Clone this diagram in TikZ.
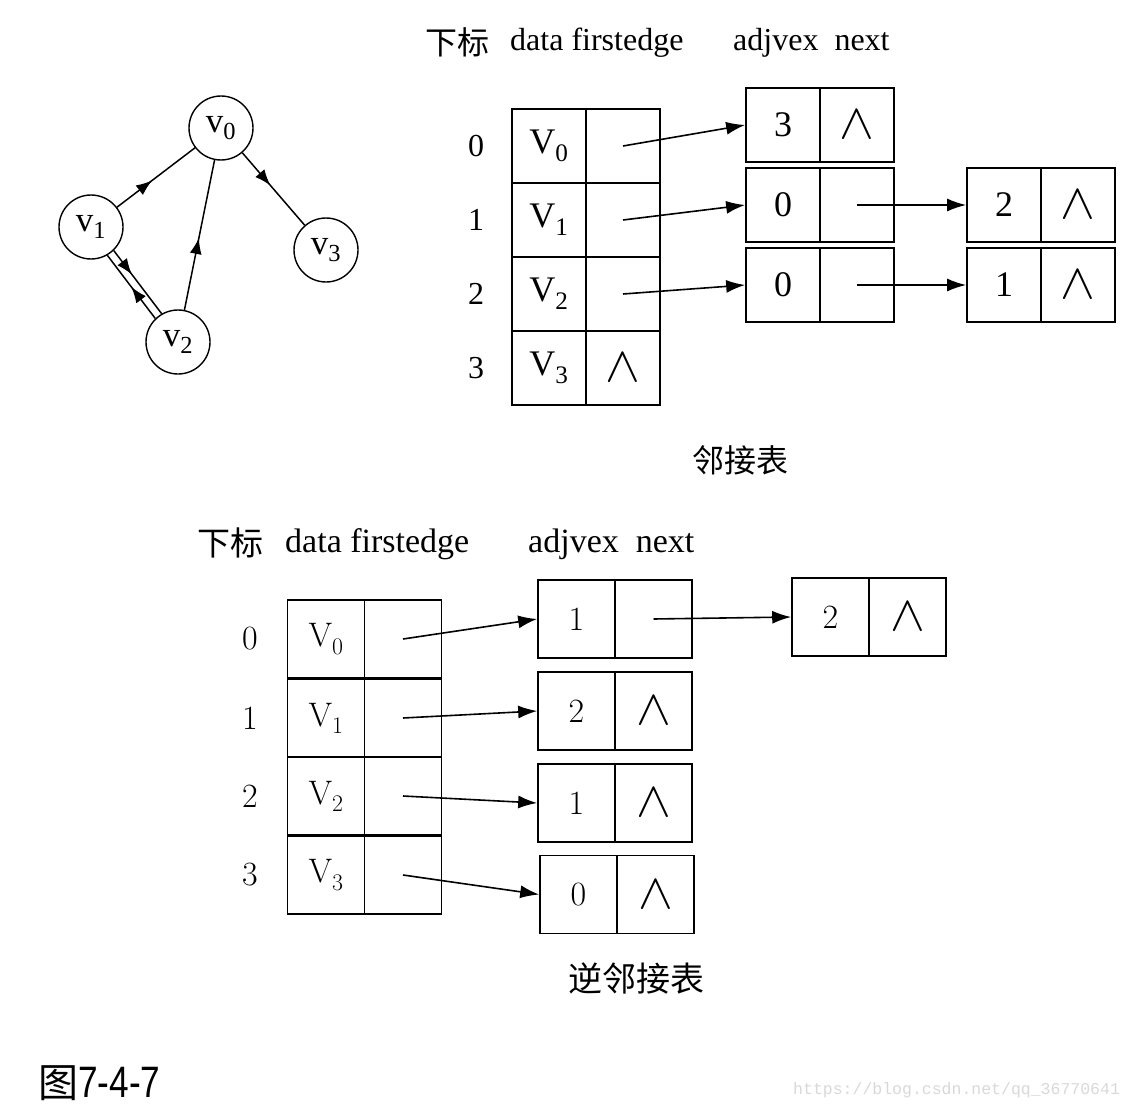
\documentclass[tikz,border=0pt]{standalone}
\usepackage{fontspec}
\usetikzlibrary{arrows.meta,decorations.markings}
\newfontfamily\tms{Liberation Serif}
\newfontfamily\cjk{Noto Sans CJK SC}
\newfontfamily\arl{Liberation Sans}
\newfontfamily\mno{Liberation Mono}
\newcommand\nul{\scalebox{2.1}[2]{$\wedge$}}
\begin{document}
\begin{tikzpicture}[x=1pt,y=-1pt,
  tcell/.style={draw,line width=1.7pt,minimum width=74pt,minimum height=74pt,inner sep=0pt,font=\tms\fontsize{36}{36}\selectfont},
  bcell/.style={draw,line width=1.6pt,minimum width=77pt,minimum height=78pt,inner sep=0pt,font=\fontsize{34}{34}\selectfont},
  gnode/.style={circle,draw,line width=1.4pt,minimum size=64pt,inner sep=0pt,font=\tms\fontsize{35}{35}\selectfont},
  ptr/.style={line width=1.6pt,-{Latex[length=19pt,width=13pt]}},
  midarrow/.style={line width=1.5pt,postaction={decorate},decoration={markings,mark=at position #1 with {\arrow{Latex[length=16pt,width=12pt]}}}},
  midarrow/.default=0.45,
  thead/.style={inner sep=0pt,anchor=west,font=\tms\fontsize{32}{32}\selectfont},
  bhead/.style={inner sep=0pt,anchor=west,font=\tms\fontsize{34}{34}\selectfont},
  tidx/.style={inner sep=0pt,font=\tms\fontsize{32}{32}\selectfont},
  bidx/.style={inner sep=0pt,font=\fontsize{34}{34}\selectfont},
  captxt/.style={inner sep=0pt,font=\cjk\fontsize{32}{32}\selectfont}]
\useasboundingbox[fill=white] (0,0) rectangle (1134,1110);
% ---------- graph ----------
\node[gnode] (v0) at (221,128) {v\textsubscript{0}};
\node[gnode] (v1) at (91,227) {v\textsubscript{1}};
\node[gnode] (v2) at (178,342) {v\textsubscript{2}};
\node[gnode] (v3) at (326,250) {v\textsubscript{3}};
\draw[midarrow] (v1) -- (v0);
\draw[midarrow] (v0) -- (v3);
\draw[midarrow=0.48] (v2) -- (v0);
\draw[midarrow=0.38] (v1.-46) -- (v2.120);
\draw[midarrow=0.5] (v2.134) -- (v1.-60);
% ---------- top header ----------
\node[captxt,anchor=west] (th0) at (425,42) {下标};
\node[thead] (th1) at (510,43) {data firstedge};
\node[thead] (th2) at (733,43) {adjvex\ \ next};
% ---------- top table ----------
\node[tcell] (t0d) at (549,146) {V\textsubscript{0}};
\node[tcell] (t0f) at (623,146) {};
\node[tcell] (t1d) at (549,220) {V\textsubscript{1}};
\node[tcell] (t1f) at (623,220) {};
\node[tcell] (t2d) at (549,294) {V\textsubscript{2}};
\node[tcell] (t2f) at (623,294) {};
\node[tcell] (t3d) at (549,368) {V\textsubscript{3}};
\node[tcell] (t3f) at (623,368) {\nul};
\node[tidx] (ti0) at (476,146) {0};
\node[tidx] (ti1) at (476,220) {1};
\node[tidx] (ti2) at (476,294) {2};
\node[tidx] (ti3) at (476,368) {3};
% edge boxes
\node[tcell] (a0v) at (783,125) {3};
\node[tcell] (a0n) at (857,125) {\nul};
\node[tcell] (a1v) at (783,205) {0};
\node[tcell] (a1n) at (857,205) {};
\node[tcell] (a2v) at (783,285) {0};
\node[tcell] (a2n) at (857,285) {};
\node[tcell] (b1v) at (1004,205) {2};
\node[tcell] (b1n) at (1078,205) {\nul};
\node[tcell] (b2v) at (1004,285) {1};
\node[tcell] (b2n) at (1078,285) {\nul};
\draw[ptr] (t0f.center) -- (a0v.west);
\draw[ptr] (t1f.center) -- (a1v.west);
\draw[ptr] (t2f.center) -- (a2v.west);
\draw[ptr] (a1n.center) -- (b1v.west);
\draw[ptr] (a2n.center) -- (b2v.west);
\node[captxt] (c1) at (740,460) {邻接表};
% ---------- bottom header ----------
\node[captxt,anchor=west,font=\cjk\fontsize{33}{33}\selectfont] (bh0) at (197,543) {下标};
\node[bhead] (bh1) at (285,544) {data firstedge};
\node[bhead] (bh2) at (528,544) {adjvex\ \ next};
% ---------- bottom table ----------
\node[bcell] (s0d) at (326,639) {V\textsubscript{0}};
\node[bcell] (s0f) at (403,639) {};
\node[bcell] (s1d) at (326,718) {V\textsubscript{1}};
\node[bcell] (s1f) at (403,718) {};
\node[bcell] (s2d) at (326,796) {V\textsubscript{2}};
\node[bcell] (s2f) at (403,796) {};
\node[bcell] (s3d) at (326,875) {V\textsubscript{3}};
\node[bcell] (s3f) at (403,875) {};
\node[bidx] (si0) at (250,639) {0};
\node[bidx] (si1) at (250,718) {1};
\node[bidx] (si2) at (250,796) {2};
\node[bidx] (si3) at (250,875) {3};
\node[bcell] (r0v) at (576.5,619) {1};
\node[bcell] (r0n) at (653.5,619) {};
\node[bcell] (r1v) at (576.5,711) {2};
\node[bcell] (r1n) at (653.5,711) {\nul};
\node[bcell] (r2v) at (576.5,803) {1};
\node[bcell] (r2n) at (653.5,803) {\nul};
\node[bcell] (r3v) at (578.5,894.5) {0};
\node[bcell] (r3n) at (655.5,894.5) {\nul};
\node[bcell] (q0v) at (830.5,617) {2};
\node[bcell] (q0n) at (907.5,617) {\nul};
\draw[ptr] (s0f.center) -- (r0v.west);
\draw[ptr] (s1f.center) -- (r1v.west);
\draw[ptr] (s2f.center) -- (r2v.west);
\draw[ptr] (s3f.center) -- (r3v.west);
\draw[ptr] (r0n.center) -- (q0v.west);
\node[captxt,font=\cjk\fontsize{34}{34}\selectfont] (c2) at (636,978) {逆邻接表};
% ---------- figure label ----------
\node[inner sep=0pt,anchor=west] (fig) at (38,1083) {{\cjk\fontsize{40}{40}\selectfont 图}{\arl\fontsize{44}{44}\selectfont\scalebox{0.8}[1]{7-4-7}}};
\node[inner sep=0pt,anchor=west,text=black!15,font=\mno\fontsize{16.5}{16.5}\selectfont] (wm) at (793,1090) {https://blog.csdn.net/qq\_36770641};
\end{tikzpicture}
\end{document}
